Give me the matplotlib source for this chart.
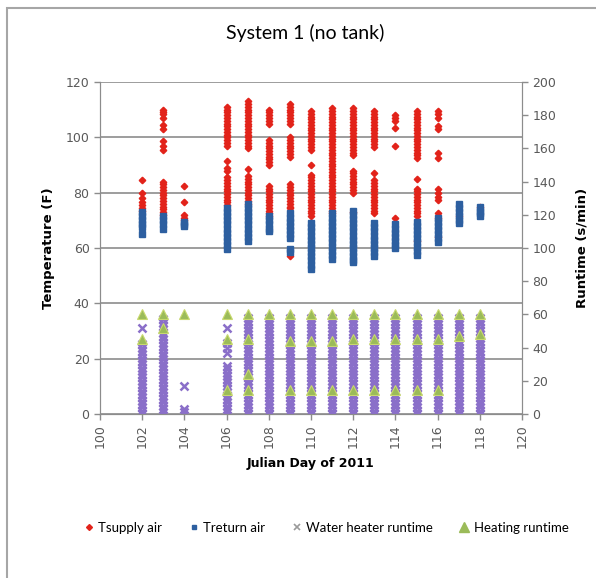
import matplotlib
matplotlib.use("Agg")
import matplotlib.pyplot as plt
from matplotlib.lines import Line2D
from matplotlib.patches import Rectangle

# supply air temperature (F) per Julian day
tsupply = {
    102: [84.5, 80, 78, 76.5, 75.5, 74.5, 73.5],
    103: [110, 109, 108.5, 107, 104.5, 103, 98.5, 97, 95.5, 84, 83, 82, 81, 80, 79, 78, 77, 76, 75, 74, 73, 72],
    104: [82.5, 76.5, 72, 71, 70],
    106: [111, 110, 109, 108, 107, 106, 105, 104, 103, 102, 101, 100, 99, 98, 97, 91.5, 89, 88,
          85.5, 84.5, 83.5, 82.5, 81.5, 80.5, 79.5, 78.5, 77.5, 76.5, 75.5],
    107: [113, 112, 111, 110, 109, 108, 107, 106, 105, 104, 103, 102, 101, 100, 99, 98, 97, 96, 88.5,
          86, 85, 84, 83, 82, 81, 80, 79, 78, 77, 76],
    108: [110, 109, 108, 107, 106, 105, 99, 98, 97, 96, 95, 94, 93, 92, 91, 90,
          82.5, 81.5, 80.5, 79.5, 78.5, 77.5, 76.5, 75.5, 74.5, 73.5, 72.5, 71.5],
    109: [112, 111, 110, 109, 108, 107, 106, 105, 100, 99, 98, 97, 96, 95, 94, 93,
          83, 82, 81, 80, 79, 78, 77, 76, 75, 74.5, 57],
    110: [109.5, 108.5, 107.5, 106.5, 105.5, 104.5, 103.5, 102.5, 101.5, 100.5, 99.5, 98.5, 97.5, 96.5,
          95.5, 90, 86.5, 85.5, 84.5, 83.5, 82.5, 81.5, 80.5, 79.5, 78.5, 77.5, 76.5, 75.5, 74.5,
          73.5, 72.5, 71.5],
    111: [110.5, 109.5, 108.5, 107.5, 106.5, 105.5, 104.5, 103.5, 102.5, 101.5, 100.5, 99.5, 98.5,
          97.5, 96.5, 95.5, 94.5, 93.5, 92.5, 91.5, 90.5, 89.5, 88.5, 87.5, 86.5, 85.5, 84.5, 83.5,
          82.5, 81.5, 80.5, 79.5, 78.5, 77.5, 76.5, 75.5, 74.5, 73.5, 72.5],
    112: [110.5, 109.5, 108.5, 107.5, 106.5, 105.5, 104.5, 103.5, 102.5, 101.5, 100.5, 99.5, 98.5,
          97.5, 96.5, 95.5, 94.5, 93.5, 88, 87, 86, 85, 84, 83, 82, 81, 80, 73],
    113: [109.5, 108.5, 107.5, 106.5, 105.5, 104.5, 103.5, 102.5, 101.5, 100.5, 99.5, 98.5, 97.5,
          96.5, 87, 84.5, 83.5, 82.5, 81.5, 80.5, 79.5, 78.5, 77.5, 76.5, 75.5, 74.5, 73.5, 72.5],
    114: [108, 107, 106, 103.5, 97, 71],
    115: [109.5, 108.5, 107.5, 106.5, 105.5, 104.5, 103.5, 102.5, 101.5, 100.5, 99.5, 98.5, 97.5,
          96.5, 95.5, 94.5, 93.5, 92.5, 85, 81.5, 80.5, 79.5, 78.5, 77.5, 76.5, 75.5, 74.5, 73.5,
          72.5, 71.5, 62.5],
    116: [109.5, 108.5, 107, 104, 103, 94.5, 92.5, 81.5, 80, 78.5, 77.5, 72.5, 71, 64],
    117: [71.5],
    118: [75],
}

# return air temperature (F)
treturn = {
    102: [73, 71.5, 70, 68.5, 67.5, 65],
    103: [71.5, 70, 68.5, 67],
    104: [69.5, 68.5, 68],
    106: [74.5, 73, 71.5, 70, 68.5, 67, 65.5, 64, 62.5, 61, 59.5],
    107: [76, 74.5, 73, 71.5, 70, 68.5, 67, 65.5, 64, 62.5],
    108: [71.5, 70, 68.5, 67, 66],
    109: [72.5, 71, 69.5, 68, 66.5, 65, 63.5, 59.5, 58.5],
    110: [69, 67.5, 66, 64.5, 63, 61.5, 60, 58.5, 57, 55.5, 54, 52.5],
    111: [72.5, 71, 69.5, 68, 66.5, 65, 63.5, 62, 60.5, 59, 57.5, 56],
    112: [73.5, 72, 70.5, 69, 67.5, 66, 64.5, 63, 61.5, 60, 58.5, 57, 55.5, 55],
    113: [69, 67.5, 66, 64.5, 63, 61.5, 60, 58.5, 57],
    114: [68.5, 67, 65.5, 64, 62.5, 61, 60],
    115: [69.5, 68, 66.5, 65, 63.5, 62, 60.5, 59, 57.5],
    116: [71, 69.5, 68, 66.5, 65, 63.5, 62],
    117: [76, 74.5, 73, 71.5, 70, 69],
    118: [75, 73.5, 72.5, 71.5],
}

# water heater runtime (s/min); most days fill the whole 0-58 column
full_col = [58, 56, 54, 52, 50, 48, 46, 44, 42, 40, 38, 36, 34, 32, 30, 28, 26, 24, 22, 20,
            18, 16, 14, 12, 10, 8, 6, 4, 2, 0]
water_heater = {
    102: [52, 42, 40, 38, 36, 34, 32, 30, 28, 26, 24, 22, 20, 18, 16, 14, 12, 10, 8, 6, 4, 2, 0],
    103: [57, 55, 53, 51, 49, 47, 45, 43, 41, 39, 37, 35, 33, 31, 29, 27, 25, 23, 21, 19, 17, 15,
          13, 11, 9, 7, 5, 3, 1],
    104: [17, 3, 1],
    106: [52, 43, 40, 37, 29, 27, 25, 23, 21, 19, 17, 15, 13, 11, 9, 7, 5, 3, 1],
    107: full_col, 108: full_col, 109: full_col, 110: full_col, 111: full_col,
    112: full_col, 113: full_col, 114: full_col, 115: full_col, 116: full_col,
    117: full_col, 118: full_col,
}

# heating runtime (s/min)
heating = {
    102: [60, 45], 103: [60, 52], 104: [60], 106: [60, 45, 14.5], 107: [60, 45, 24, 14.5],
    108: [60], 109: [60, 44, 14.5], 110: [60, 44, 14.5], 111: [60, 44, 14.5],
    112: [60, 45, 14.5], 113: [60, 45, 14.5], 114: [60, 45, 14.5], 115: [60, 45, 14.5],
    116: [60, 45, 14.5], 117: [60, 47], 118: [60, 48],
}

c_red = "#E2231A"
c_blue = "#2D5FA0"
c_purple = "#8A6FC9"
c_green = "#9BBB59"
grid_c = "#8C8C8C"
tick_c = "#595959"

fig = plt.figure(figsize=(5.96, 5.78), dpi=100)
ax = fig.add_axes([100 / 596, 1 - 414 / 578, 422 / 596, 332 / 578])
ax2 = ax.twinx()

for d, vals in tsupply.items():
    ax.plot([d] * len(vals), vals, ls="none", marker="D", ms=3.3, color=c_red, mec=c_red)
for d, vals in treturn.items():
    ax.plot([d] * len(vals), vals, ls="none", marker="s", ms=4.0, color=c_blue, mec=c_blue)
for d, vals in water_heater.items():
    ax2.plot([d] * len(vals), vals, ls="none", marker="x", ms=5.5, mew=1.8, color=c_purple)
for d, vals in heating.items():
    ax2.plot([d] * len(vals), vals, ls="none", marker="^", ms=6.5, color=c_green,
             mec="#C8D96E", mew=0.8)

ax.set_xlim(100, 120)
ax.set_ylim(0, 120)
ax2.set_ylim(0, 200)
ax.set_xticks(range(100, 121, 2))
ax.set_yticks(range(0, 121, 20))
ax2.set_yticks(range(0, 201, 20))
ax.yaxis.grid(True, color=grid_c, lw=1.2)
ax.set_axisbelow(True)

for a in (ax, ax2):
    for s in a.spines.values():
        s.set_color(grid_c)
    a.spines["top"].set_visible(False)
    a.tick_params(colors=grid_c, labelcolor=tick_c, labelsize=9, length=4, width=1)
ax.tick_params(axis="x", labelrotation=90)

lab_font = ["Liberation Sans Narrow", "DejaVu Sans"]
ax.set_ylabel("Temperature (F)", fontsize=9.5, fontweight="bold", family=lab_font, labelpad=8)
ax2.set_ylabel("Runtime (s/min)", fontsize=9.5, fontweight="bold", family=lab_font, labelpad=14)
ax.set_xlabel("Julian Day of 2011", fontsize=9, fontweight="bold", family=lab_font, labelpad=6)

fig.text(0.512, 0.943, "System 1 (no tank)", ha="center", va="center", fontsize=14,
         family=["Lato", "DejaVu Sans"])

handles = [
    Line2D([], [], ls="none", marker="D", ms=3, color=c_red),
    Line2D([], [], ls="none", marker="s", ms=3.5, color=c_blue),
    Line2D([], [], ls="none", marker="x", ms=5, mew=1.2, color="#9A9A9A"),
    Line2D([], [], ls="none", marker="^", ms=6.5, color=c_green),
]
labels = ["Tsupply air", "Treturn air", "Water heater runtime", "Heating runtime"]
fig.legend(handles, labels, loc="center", bbox_to_anchor=(0.545, 0.087), ncol=4,
           frameon=False, prop={"family": ["Lato", "DejaVu Sans"], "size": 9.5},
           handletextpad=0.1, columnspacing=1.8, handlelength=1.2)

fig.patches.append(Rectangle((7 / 596, -0.02), 1.0, 1 - 8 / 578 + 0.02, transform=fig.transFigure,
                             fill=False, ec="#A6A6A6", lw=1.5))

fig.savefig("out.png", dpi=100)
